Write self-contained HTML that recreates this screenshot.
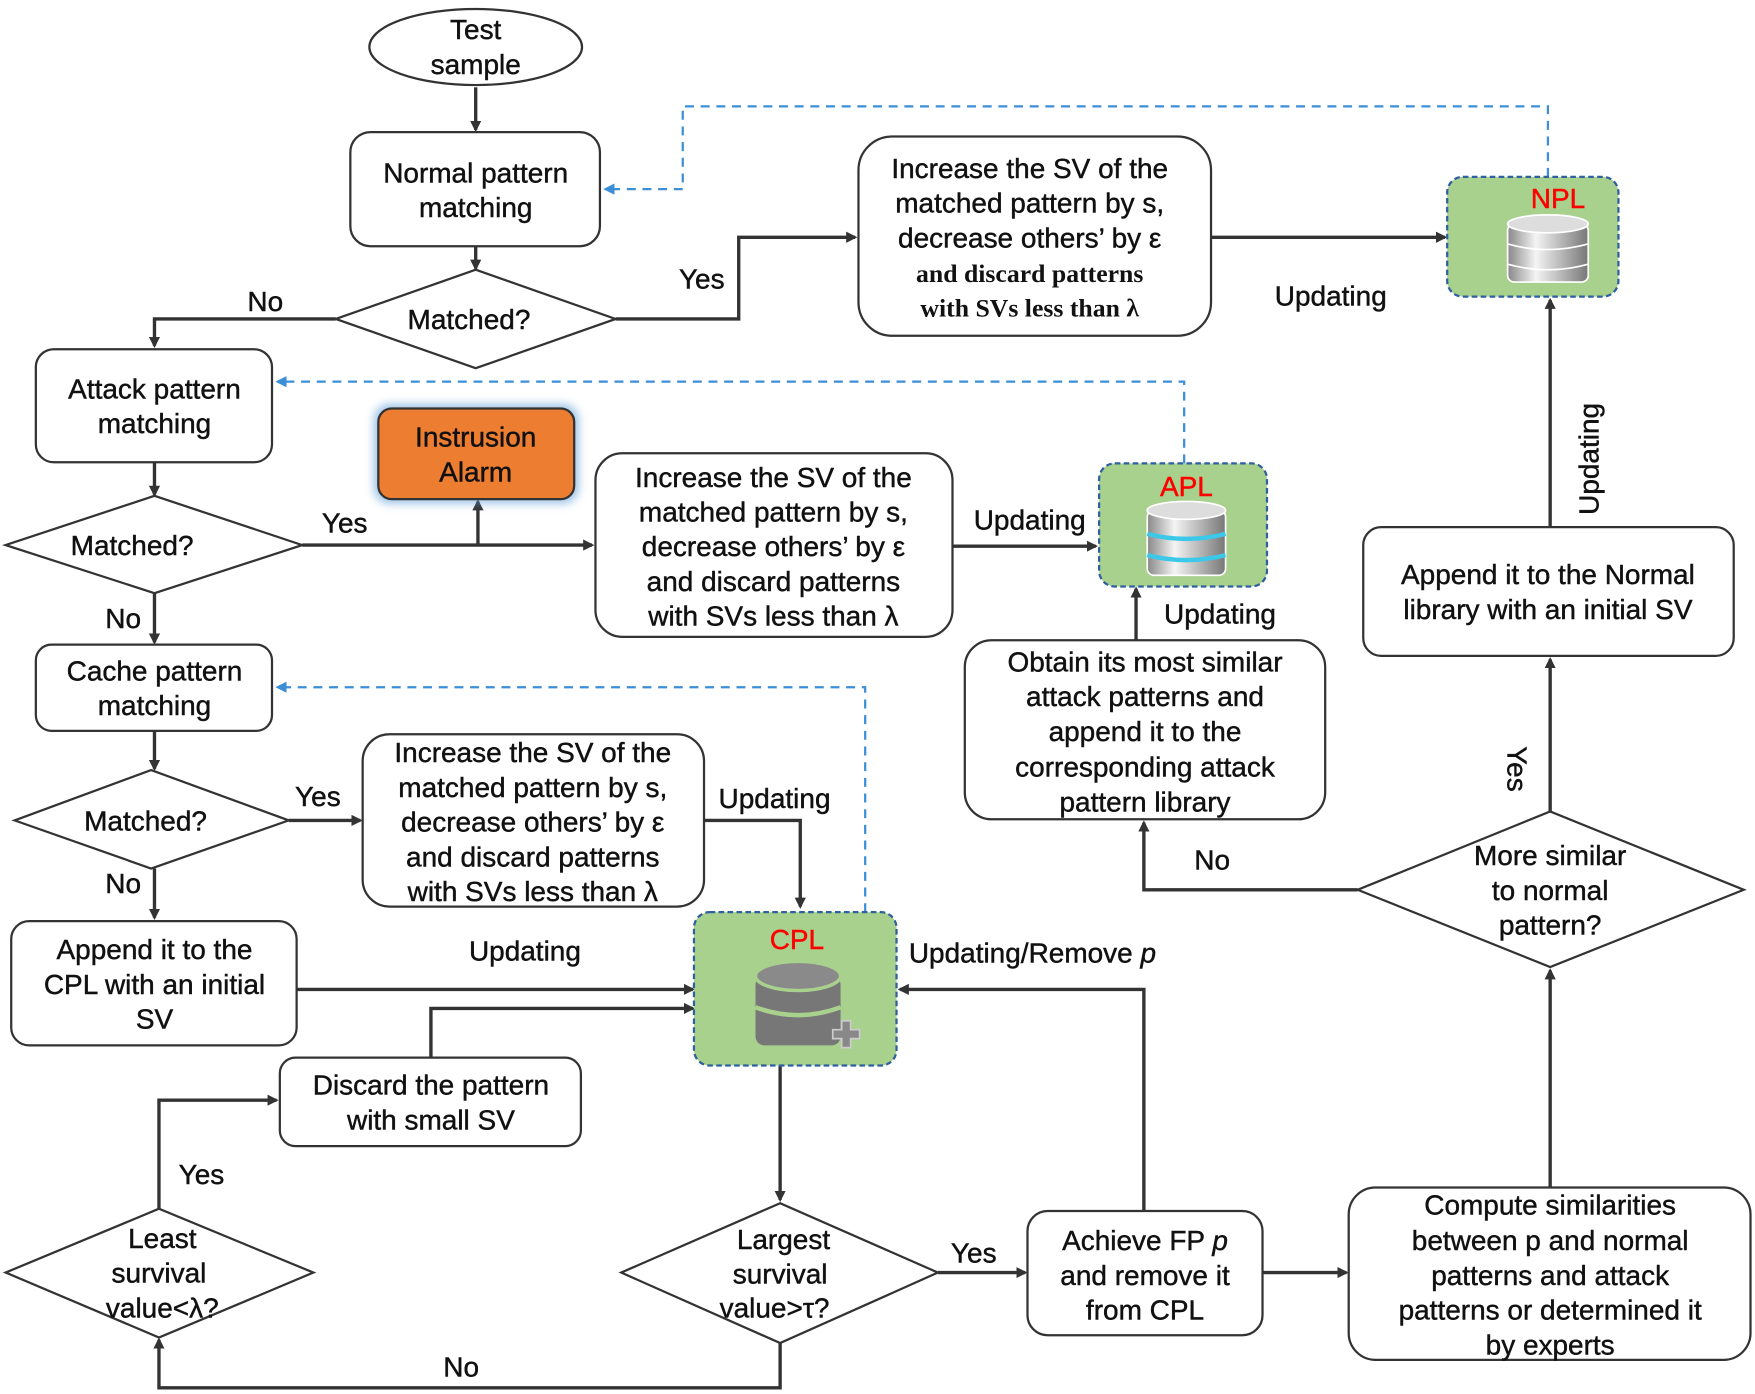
<!DOCTYPE html>
<html><head><meta charset="utf-8"><style>
html,body{margin:0;padding:0;background:#fff;}
svg{display:block;}
text{font-family:"Liberation Sans",Arial,sans-serif;font-size:25px;fill:#111;text-anchor:middle;stroke:#111;stroke-width:0.4px;}
.s{font-family:"Liberation Serif",serif;font-weight:bold;font-size:23px;stroke-width:0;}
.r{fill:#ff0000;stroke:#ff0000;}
</style></head><body>
<svg width="1755" height="1394" viewBox="0 0 1568 1245.5" xmlns="http://www.w3.org/2000/svg">
<defs>
<marker id="a" markerWidth="10" markerHeight="10" refX="8" refY="5" orient="auto" markerUnits="userSpaceOnUse"><path d="M0,0 L10,5 L0,10 Z" fill="#333"/></marker>
<marker id="b" markerWidth="10" markerHeight="10" refX="8" refY="5" orient="auto" markerUnits="userSpaceOnUse"><path d="M0,0 L10,5 L0,10 Z" fill="#3a8fd8"/></marker>
<filter id="g" x="-20%" y="-20%" width="140%" height="140%"><feGaussianBlur stdDeviation="4"/></filter>
<linearGradient id="db" x1="0" x2="1"><stop offset="0" stop-color="#888"/><stop offset="0.35" stop-color="#f4f4f4"/><stop offset="1" stop-color="#777"/></linearGradient>
</defs>
<g fill="none" stroke="#333" stroke-width="3">
<path d="M425,78 V116" marker-end="url(#a)"/>
<path d="M425,220 V240" marker-end="url(#a)"/>
<path d="M300,285 H138 V309" marker-end="url(#a)"/>
<path d="M550,285 H660 V212 H764" marker-end="url(#a)"/>
<path d="M1082,212 H1291" marker-end="url(#a)"/>
<path d="M138,413 V442" marker-end="url(#a)"/>
<path d="M270,487 H529" marker-end="url(#a)"/>
<path d="M427,487 V448" marker-end="url(#a)"/>
<path d="M138,530 V574" marker-end="url(#a)"/>
<path d="M851,488 H979" marker-end="url(#a)"/>
<path d="M1015,572 V526" marker-end="url(#a)"/>
<path d="M1213,795 H1022 V735" marker-end="url(#a)"/>
<path d="M1385,725 V589" marker-end="url(#a)"/>
<path d="M1385,471 V268" marker-end="url(#a)"/>
<path d="M138,653 V687" marker-end="url(#a)"/>
<path d="M258,733 H322" marker-end="url(#a)"/>
<path d="M629,733 H715 V810" marker-end="url(#a)"/>
<path d="M138,776 V820" marker-end="url(#a)"/>
<path d="M265,884 H619" marker-end="url(#a)"/>
<path d="M385,945 V901 H619" marker-end="url(#a)"/>
<path d="M1022,1082 V884 H804" marker-end="url(#a)"/>
<path d="M697,952 V1072" marker-end="url(#a)"/>
<path d="M838,1137 H916" marker-end="url(#a)"/>
<path d="M1128,1137 H1203" marker-end="url(#a)"/>
<path d="M1385,1061 V867" marker-end="url(#a)"/>
<path d="M697,1200 V1240 H142 V1197" marker-end="url(#a)"/>
<path d="M142,1080 V983 H247" marker-end="url(#a)"/>
</g>
<g fill="none" stroke="#3a8fd8" stroke-width="2" stroke-dasharray="8,6">
<path d="M1383,158 V95 H610 V169 H541" marker-end="url(#b)"/>
<path d="M1058,414 V341 H248" marker-end="url(#b)"/>
<path d="M773,815 V614 H248" marker-end="url(#b)"/>
</g>
<g fill="#fff" stroke="#333" stroke-width="2">
<ellipse cx="425" cy="42" rx="95" ry="34"/>
<rect x="313" y="118" width="223" height="102" rx="18"/>
<polygon points="300,285 425,241 550,285 425,329"/>
<rect x="767" y="122" width="315" height="178" rx="30"/>
<rect x="32" y="312" width="211" height="101" rx="16"/>
<polygon points="5,487 138,443 270,487 138,530"/>
<rect x="532" y="405" width="319" height="164" rx="24"/>
<rect x="862" y="572" width="322" height="160" rx="24"/>
<polygon points="1213,795 1385,725 1558,795 1385,864"/>
<rect x="1218" y="471" width="331" height="115" rx="16"/>
<rect x="32" y="576" width="211" height="77" rx="14"/>
<polygon points="13,733 135,688 258,733 135,776"/>
<rect x="324" y="656" width="305" height="154" rx="24"/>
<rect x="10" y="823" width="255" height="111" rx="16"/>
<rect x="250" y="945" width="269" height="79" rx="14"/>
<polygon points="555,1137 697,1075 838,1137 697,1200"/>
<rect x="918" y="1082" width="210" height="111" rx="18"/>
<rect x="1205" y="1061" width="359" height="154" rx="24"/>
<polygon points="5,1137 142,1080 280,1137 142,1195"/>
</g>
<rect x="334" y="361" width="183" height="89" rx="14" fill="#5b9bd5" opacity="0.6" filter="url(#g)"/>
<rect x="338" y="365" width="175" height="81" rx="12" fill="#ed7d31" stroke="#333" stroke-width="2"/>
<g fill="#a9d18e" stroke="#2e5f9e" stroke-width="2" stroke-dasharray="5,3">
<rect x="1293" y="158" width="153" height="107" rx="14"/>
<rect x="982" y="414" width="150" height="110" rx="14"/>
<rect x="620" y="815" width="181" height="137" rx="14"/>
</g>
<g stroke="#fff" stroke-width="1.5" fill="url(#db)">
<rect x="1347" y="200" width="72" height="52" rx="6"/><ellipse cx="1383" cy="200" rx="36" ry="8" fill="#ddd"/>
<path d="M1347,218 Q1383,228 1419,218 M1347,236 Q1383,246 1419,236" fill="none"/>
<rect x="1025" y="456" width="70" height="58" rx="6"/><ellipse cx="1060" cy="456" rx="35" ry="8" fill="#ddd"/>
<path d="M1025,477 Q1060,486 1095,477 M1025,496 Q1060,505 1095,496" fill="none" stroke="#3cc8e8" stroke-width="4"/>
</g>
<g fill="#777">
<rect x="675" y="872" width="76" height="62" rx="8"/><ellipse cx="713" cy="872" rx="38" ry="13" fill="#8a8a8a" stroke="#a9d18e" stroke-width="3"/>
<path d="M675,900 Q713,914 751,900" stroke="#a9d18e" stroke-width="4" fill="none"/>
<path d="M744,920 h8 v-8 h8 v8 h8 v8 h-8 v8 h-8 v-8 h-8 z" fill="#888" stroke="#ccc" stroke-width="1.5"/>
</g>
<text x="425" y="35">Test</text><text x="425" y="66">sample</text>
<text x="425" y="163">Normal pattern</text><text x="425" y="194">matching</text>
<text x="419" y="294">Matched?</text>
<text x="237" y="278">No</text><text x="627" y="258">Yes</text>
<text x="920" y="159">Increase the SV of the</text>
<text x="920" y="190">matched pattern by s,</text>
<text x="920" y="221">decrease others’ by ε</text>
<text x="920" y="252" class="s">and discard patterns</text>
<text x="920" y="283" class="s">with SVs less than λ</text>
<text x="1189" y="273">Updating</text>
<text x="1392" y="186" class="r">NPL</text>
<text x="138" y="356">Attack pattern</text><text x="138" y="387">matching</text>
<text x="425" y="399">Instrusion</text><text x="425" y="430">Alarm</text>
<text x="118" y="496">Matched?</text>
<text x="308" y="476">Yes</text><text x="110" y="561">No</text>
<text x="691" y="435">Increase the SV of the</text>
<text x="691" y="466">matched pattern by s,</text>
<text x="691" y="497">decrease others’ by ε</text>
<text x="691" y="528">and discard patterns</text>
<text x="691" y="559">with SVs less than λ</text>
<text x="920" y="473">Updating</text>
<text x="1060" y="443" class="r">APL</text>
<text x="1090" y="557">Updating</text>
<text x="1023" y="600">Obtain its most similar</text>
<text x="1023" y="631">attack patterns and</text>
<text x="1023" y="662">append it to the</text>
<text x="1023" y="694">corresponding attack</text>
<text x="1023" y="725">pattern library</text>
<text x="1083" y="777">No</text>
<text x="1385" y="773">More similar</text><text x="1385" y="804">to normal</text><text x="1385" y="835">pattern?</text>
<text x="1355" y="687" transform="rotate(90 1355 687)" dy="8">Yes</text>
<text x="1383" y="522">Append it to the Normal</text><text x="1383" y="553">library with an initial SV</text>
<text x="1420" y="410" transform="rotate(-90 1420 410)" dy="8">Updating</text>
<text x="138" y="608">Cache pattern</text><text x="138" y="639">matching</text>
<text x="130" y="742">Matched?</text>
<text x="284" y="720">Yes</text><text x="110" y="798">No</text>
<text x="476" y="681">Increase the SV of the</text>
<text x="476" y="712">matched pattern by s,</text>
<text x="476" y="743">decrease others’ by ε</text>
<text x="476" y="774">and discard patterns</text>
<text x="476" y="805">with SVs less than λ</text>
<text x="692" y="722">Updating</text>
<text x="138" y="857">Append it to the</text><text x="138" y="888">CPL with an initial</text><text x="138" y="919">SV</text>
<text x="469" y="858">Updating</text>
<text x="385" y="978">Discard the pattern</text><text x="385" y="1009">with small SV</text>
<text x="712" y="848" class="r">CPL</text>
<text x="812" y="860" style="text-anchor:start">Updating/Remove <tspan font-style="italic">p</tspan></text>
<text x="700" y="1116">Largest</text><text x="697" y="1147">survival</text><text x="692" y="1177">value&gt;τ?</text>
<text x="870" y="1128">Yes</text>
<text x="1023" y="1117">Achieve FP <tspan font-style="italic">p</tspan></text><text x="1023" y="1148">and remove it</text><text x="1023" y="1179">from CPL</text>
<text x="1385" y="1085">Compute similarities</text>
<text x="1385" y="1117">between p and normal</text>
<text x="1385" y="1148">patterns and attack</text>
<text x="1385" y="1179">patterns or determined it</text>
<text x="1385" y="1210">by experts</text>
<text x="145" y="1115">Least</text><text x="142" y="1146">survival</text><text x="145" y="1177">value&lt;λ?</text>
<text x="180" y="1058">Yes</text>
<text x="412" y="1230">No</text>
</svg>
</body></html>
